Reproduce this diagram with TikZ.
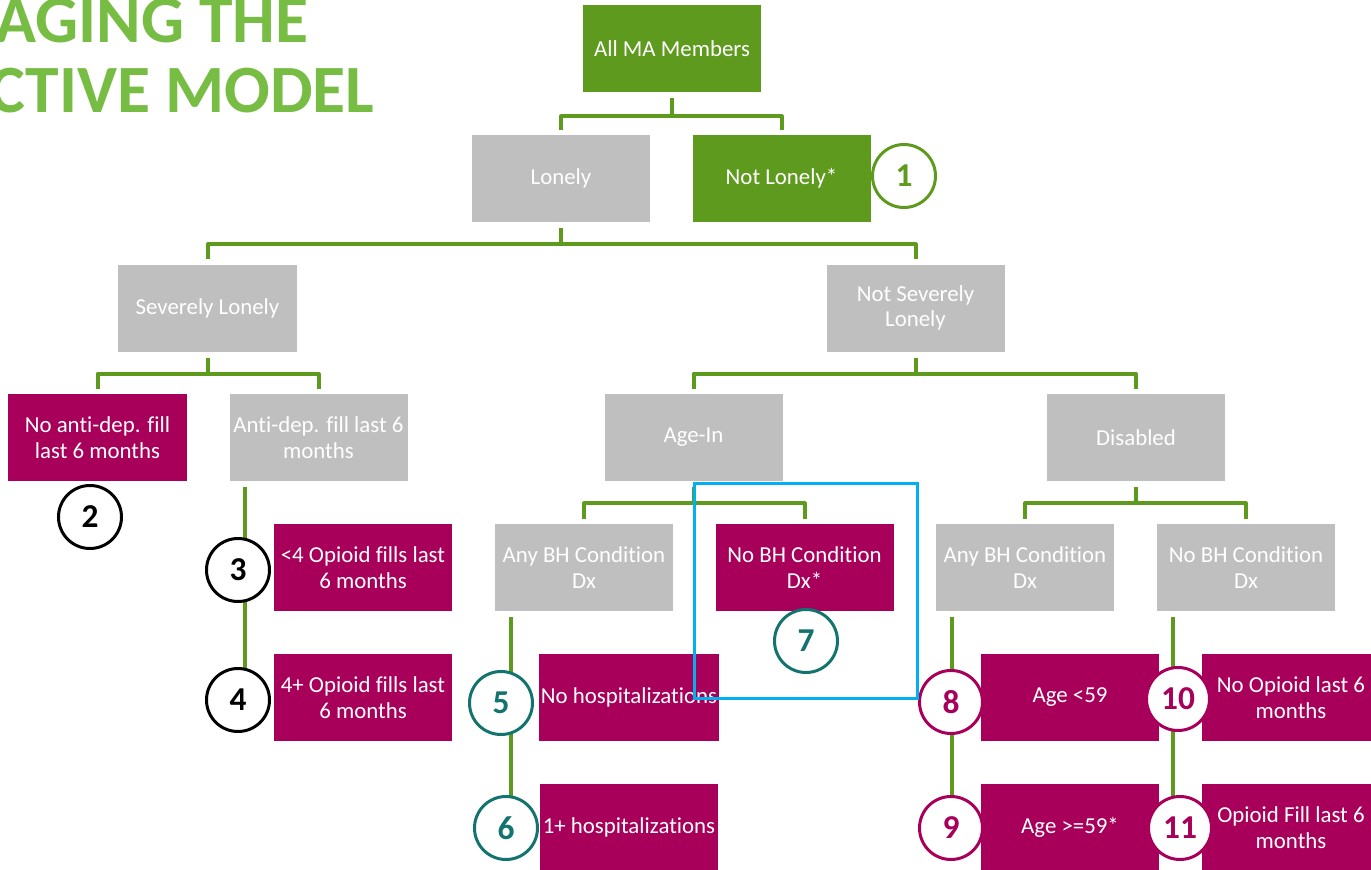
\documentclass[tikz,border=0pt]{standalone}
\usepackage{fontspec}
\setmainfont{Carlito}[Ligatures=NoCommon]
\usepackage{xcolor}
\usepackage{tikz}
\usetikzlibrary{positioning, backgrounds, calc}
\definecolor{treegreen}{HTML}{5E9A1E}
\definecolor{titlegreen}{HTML}{77BC43}
\definecolor{plum}{HTML}{A8005A}
\definecolor{boxgray}{HTML}{BFBFBF}
\definecolor{tealring}{HTML}{12736F}
\definecolor{focusblue}{HTML}{00B0F0}

\begin{document}
\begin{tikzpicture}[x=0.2mm, y=-0.2mm,
    split/.style={rectangle, fill=#1, text=white, minimum width=35.6mm, minimum height=17.4mm, inner sep=1pt, align=center, font=\fontsize{13}{14.5}\selectfont},
    split/.default=boxgray,
    badge/.style={circle, draw=#1, text=#1, fill=white, line width=0.6mm, minimum size=12.6mm, inner sep=0pt, font=\fontsize{19}{19}\selectfont\bfseries},
    headline/.style={anchor=base east, inner sep=0pt, text=titlegreen, font=\fontsize{38.5}{38.5}\selectfont\bfseries},
    forkline/.style={treegreen, line width=0.8mm, line join=round, shorten <=1.2mm, shorten >=1mm},
    stemline/.style={treegreen, line width=0.8mm, shorten <=1.2mm}
]
\clip (0,0) rectangle (1371,870);
\node[headline] (title1) at (309,42) {AGING THE};
\node[headline] (title2) at (375,112) {CTIVE MODEL};

% top levels
\node[split=treegreen] (all) at (672,48.5) {All MA Members};
\node[split] (lonely) at (561,178.5) {Lonely};
\node[split=treegreen] (notlonely) at (781.5,178.5) {Not Lonely*};
\node[split] (severe) at (207.5,308) {Severely Lonely};
\node[split] (notsevere) at (915.5,308) {Not Severely\\Lonely};
\node[split=plum] (noad) at (97.5,437.5) {No anti-dep. fill\\last 6 months};
\node[split] (ad) at (318.5,437.5) {Anti-dep. fill last 6\\months};
\node[split] (agein) at (693.5,437.5) {Age-In};
\node[split] (disabled) at (1136,437.5) {Disabled};

% lower levels
\node[split=plum] (oplow) at (363,567.5) {<4 Opioid fills last\\6 months};
\node[split=plum] (ophigh) at (363,697.5) {4+ Opioid fills last\\6 months};
\node[split] (anybhA) at (584,567.5) {Any BH Condition\\Dx};
\node[split=plum] (nobhA) at (804.5,567.5) {No BH Condition\\Dx*};
\node[split=plum] (nohosp) at (629,697.5) {No hospitalizations};
\node[split=plum] (hosp) at (629,827.5) {1+ hospitalizations};
\node[split] (anybhB) at (1025,567.5) {Any BH Condition\\Dx};
\node[split] (nobhB) at (1246,567.5) {No BH Condition\\Dx};
\node[split=plum] (agelow) at (1070,697.5) {Age <59};
\node[split=plum] (agehigh) at (1070,827.5) {Age >=59*};
\node[split=plum] (noop) at (1291,697.5) {No Opioid last 6\\months};
\node[split=plum] (opfill) at (1291,827.5) {Opioid Fill last 6\\months};

% segment numbers
\node[badge=treegreen] (n1) at (904,176) {1};
\node[badge=black] (n2) at (90,517) {2};
\node[badge=black] (n3) at (238,570) {3};
\node[badge=black] (n4) at (238,700) {4};
\node[badge=tealring] (n5) at (501,703) {5};
\node[badge=tealring] (n6) at (506,828) {6};
\node[badge=tealring] (n7) at (806,641) {7};
\node[badge=plum] (n8) at (951,702) {8};
\node[badge=plum] (n9) at (951,828) {9};
\node[badge=plum] (n10) at (1178,699) {10};
\node[badge=plum] (n11) at (1180,828) {11};

\begin{scope}[on background layer]
\draw[forkline] (all.south) -- ++(0,24) -| (lonely.north);
\draw[forkline] (all.south) -- ++(0,24) -| (notlonely.north);
\draw[forkline] (lonely.south) -- ++(0,22) -| (severe.north);
\draw[forkline] (lonely.south) -- ++(0,22) -| (notsevere.north);
\draw[forkline] (severe.south) -- ++(0,22) -| (noad.north);
\draw[forkline] (severe.south) -- ++(0,22) -| (ad.north);
\draw[forkline] (notsevere.south) -- ++(0,22) -| (agein.north);
\draw[forkline] (notsevere.south) -- ++(0,22) -| (disabled.north);
\draw[forkline] (agein.south) -- ++(0,22) -| (anybhA.north);
\draw[forkline] (agein.south) -- ++(0,22) -| (nobhA.north);
\draw[forkline] (disabled.south) -- ++(0,22) -| (anybhB.north);
\draw[forkline] (disabled.south) -- ++(0,22) -| (nobhB.north);
\draw[stemline] ([xshift=3.2mm]ad.south west) |- (n4.center);
\draw[stemline] ([xshift=3.2mm]anybhA.south west) |- (n6.center);
\draw[stemline] ([xshift=3.2mm]anybhB.south west) |- (n9.center);
\draw[stemline] ([xshift=3.2mm]nobhB.south west) |- (n11.center);
\end{scope}

\node[draw=focusblue, line width=0.6mm, minimum width=44.6mm, minimum height=43mm, inner sep=0pt] (focus) at (805.5,590.5) {};
\end{tikzpicture}
\end{document}
